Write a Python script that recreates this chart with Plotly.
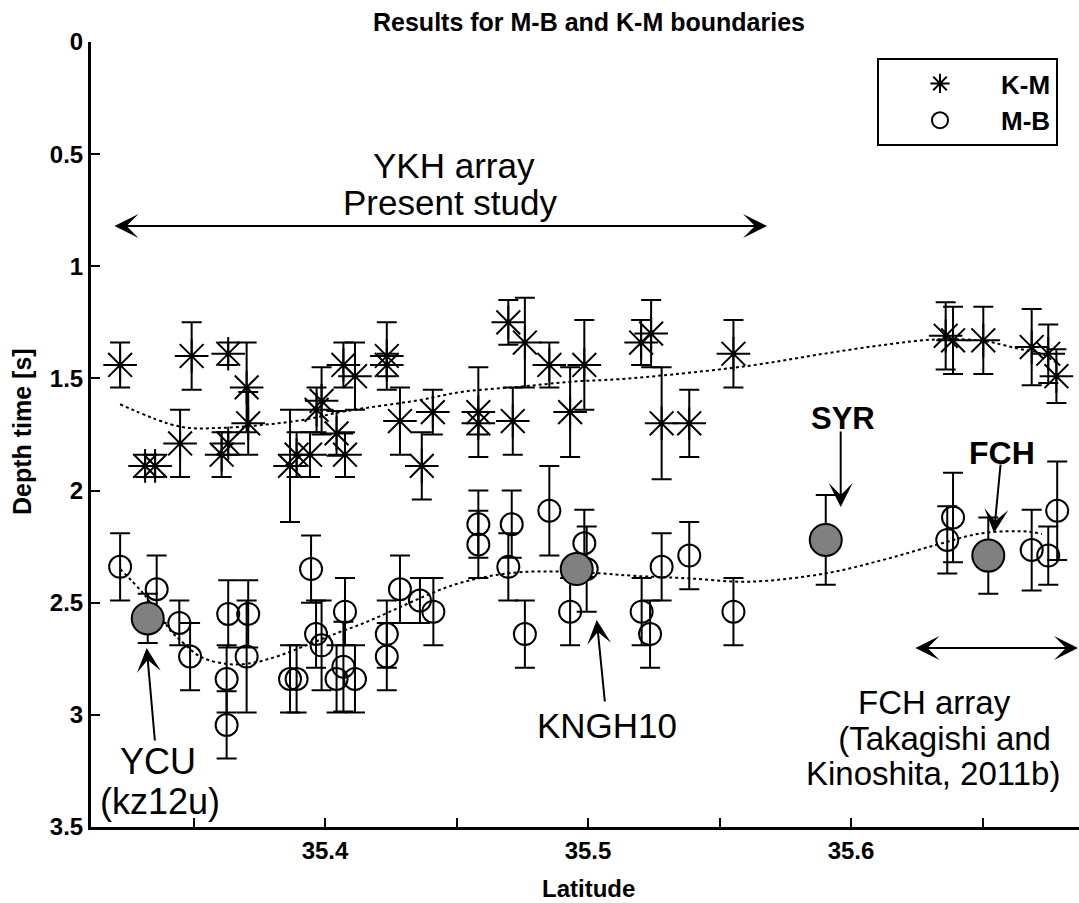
import plotly.graph_objects as go

# ---------------- data ----------------
km_lat = [35.3221, 35.3316, 35.3354, 35.3449, 35.3493, 35.3607, 35.3632, 35.3632,
          35.3702, 35.3708, 35.3867, 35.3892, 35.3943, 35.3968, 35.3987, 35.4044,
          35.4076, 35.4070, 35.4114, 35.4235, 35.4235, 35.4285, 35.4368, 35.4410,
          35.4583, 35.4583, 35.4697, 35.4714, 35.4760, 35.4853, 35.4932, 35.4986,
          35.5202, 35.5240, 35.5280, 35.5385, 35.5553, 35.6360, 35.6388, 35.6503,
          35.6687, 35.6750, 35.6781]
km_depth = [1.44, 1.89, 1.89, 1.79, 1.40, 1.84, 1.39, 1.79,
            1.54, 1.70, 1.89, 1.84, 1.84, 1.64, 1.60, 1.745,
            1.84, 1.44, 1.49, 1.40, 1.44, 1.69, 1.89, 1.65,
            1.65, 1.70, 1.25, 1.69, 1.34, 1.44, 1.65, 1.44,
            1.34, 1.30, 1.70, 1.70, 1.39, 1.31, 1.33, 1.33,
            1.36, 1.39, 1.49]
km_err = [0.10, 0.05, 0.05, 0.15, 0.15, 0.10, 0.05, 0.05,
          0.20, 0.14, 0.25, 0.10, 0.10, 0.10, 0.15, 0.10,
          0.10, 0.10, 0.15, 0.15, 0.05, 0.15, 0.15, 0.10,
          0.20, 0.05, 0.10, 0.15, 0.20, 0.10, 0.20, 0.20,
          0.10, 0.15, 0.25, 0.15, 0.15, 0.15, 0.15, 0.15,
          0.17, 0.13, 0.12]

mb_lat = [35.3221, 35.3360, 35.3446, 35.3487, 35.3626, 35.3626, 35.3632, 35.3708,
          35.3702, 35.3867, 35.3892, 35.3947, 35.3966, 35.3987, 35.4044, 35.4070,
          35.4076, 35.4114, 35.4235, 35.4235, 35.4285, 35.4361, 35.4412, 35.4583,
          35.4583, 35.4697, 35.4710, 35.4760, 35.4853, 35.4932, 35.4986, 35.4995,
          35.5204, 35.5236, 35.5280, 35.5385, 35.5553, 35.6366, 35.6388, 35.6687,
          35.6750, 35.6784]
mb_depth = [2.34, 2.44, 2.59, 2.74, 2.84, 3.045, 2.55, 2.55,
            2.74, 2.84, 2.84, 2.35, 2.64, 2.69, 2.84, 2.785,
            2.54, 2.84, 2.64, 2.74, 2.44, 2.49, 2.54, 2.15,
            2.24, 2.34, 2.15, 2.64, 2.09, 2.54, 2.235, 2.35,
            2.54, 2.64, 2.34, 2.29, 2.54, 2.22, 2.12, 2.265,
            2.29, 2.09]
mb_err = [0.15, 0.15, 0.10, 0.15, 0.15, 0.15, 0.15, 0.15,
          0.25, 0.15, 0.15, 0.15, 0.15, 0.20, 0.15, 0.20,
          0.15, 0.15, 0.15, 0.15, 0.15, 0.10, 0.15, 0.15,
          0.15, 0.15, 0.15, 0.15, 0.20, 0.15, 0.15, 0.19,
          0.15, 0.15, 0.15, 0.15, 0.15, 0.15, 0.20, 0.18,
          0.13, 0.22]

# named stations (M-B, filled grey)
st_names = ["YCU", "KNGH10", "SYR", "FCH"]
st_lat = [35.3326, 35.4957, 35.5904, 35.6522]
st_depth = [2.57, 2.35, 2.22, 2.29]
st_err = [0.11, 0.0, 0.20, 0.17]

# smoothed trends (dotted)
km_fit_lat = [35.3221, 35.3449, 35.3612, 35.3764, 35.3916, 35.4068, 35.4361, 35.4525,
              35.4741, 35.4932, 35.5122, 35.5323, 35.5616, 35.5869, 35.6122, 35.6327,
              35.6503, 35.6631, 35.6719, 35.6780]
km_fit_depth = [1.615, 1.715, 1.72, 1.707, 1.685, 1.648, 1.596, 1.559,
                1.537, 1.515, 1.503, 1.482, 1.443, 1.395, 1.351, 1.326,
                1.333, 1.366, 1.388, 1.43]
mb_fit_lat = [35.3221, 35.3310, 35.3417, 35.3449, 35.3525, 35.3626, 35.3715, 35.3816,
              35.3916, 35.4044, 35.4145, 35.4247, 35.4361, 35.4488, 35.4614, 35.4741,
              35.4894, 35.5046, 35.5186, 35.5376, 35.5616, 35.5904, 35.6119, 35.6322,
              35.6500, 35.6677, 35.6726]
mb_fit_depth = [2.35, 2.46, 2.63, 2.666, 2.74, 2.773, 2.77, 2.74,
                2.696, 2.636, 2.592, 2.54, 2.48, 2.421, 2.384, 2.364,
                2.361, 2.369, 2.381, 2.391, 2.406, 2.369, 2.31, 2.243,
                2.19, 2.183, 2.195]

x_ticks = [35.35, 35.40, 35.45, 35.50, 35.55, 35.60, 35.65]
x_ticklabels = ["", "35.4", "", "35.5", "", "35.6", ""]
y_ticks = [0, 0.5, 1, 1.5, 2, 2.5, 3, 3.5]
y_ticklabels = ["0", "0.5", "1", "1.5", "2", "2.5", "3", "3.5"]

# ---------------- layout geometry ----------------
W, H = 1079, 903
ML, MR, MT, MB = 91, 0, 42, 76
PW, PH = W - ML - MR, H - MT - MB
FONT = "Liberation Sans, Arial, sans-serif"
X_RANGE = [35.4 - (325 - ML) / 2630, 35.4 + (ML + PW - 325) / 2630]
Y_RANGE = [3.5, 0]


def PX(x):
    return (x - ML) / PW


def PY(y):
    return (MT + PH - y) / PH


fig = go.Figure()

line_style = dict(color="black", width=2, dash="dot")
fig.add_trace(go.Scatter(x=km_fit_lat, y=km_fit_depth, mode="lines", line=line_style,
                         line_shape="spline", showlegend=False, hoverinfo="skip"))
fig.add_trace(go.Scatter(x=mb_fit_lat, y=mb_fit_depth, mode="lines", line=line_style,
                         line_shape="spline", showlegend=False, hoverinfo="skip"))

err_style = dict(type="data", symmetric=True, color="black", thickness=2, width=10)

fig.add_trace(go.Scatter(
    x=km_lat, y=km_depth, mode="markers", name="K-M",
    error_y=dict(array=km_err, **err_style),
    marker=dict(symbol="asterisk-open", size=28, color="black",
                line=dict(color="black", width=2))))
fig.add_trace(go.Scatter(
    x=mb_lat, y=mb_depth, mode="markers", name="M-B",
    error_y=dict(array=mb_err, **err_style),
    marker=dict(symbol="circle-open", size=22, color="black",
                line=dict(color="black", width=2))))
fig.add_trace(go.Scatter(
    x=st_lat, y=st_depth, mode="markers", name="stations", showlegend=False,
    text=st_names,
    error_y=dict(array=st_err, **err_style),
    marker=dict(symbol="circle", size=32, color="#808080",
                line=dict(color="black", width=2))))

tick_common = dict(showgrid=False, zeroline=False, ticks="inside", ticklen=9,
                   tickwidth=2, tickcolor="black", linecolor="black", linewidth=3,
                   tickfont=dict(family=FONT, size=24, color="black", weight="bold"))

# main (bottom / left) axes
fig.update_layout(
    xaxis=dict(range=X_RANGE, tickmode="array", tickvals=x_ticks, ticktext=x_ticklabels,
               showline=True, mirror=False, **tick_common),
    yaxis=dict(range=Y_RANGE, tickmode="array", tickvals=y_ticks, ticktext=y_ticklabels,
               showline=True, mirror=False, **tick_common),
    # top axis: line + inward ticks, no labels
    xaxis2=dict(range=X_RANGE, overlaying="x", side="top", anchor="y",
                tickmode="array", tickvals=x_ticks, showticklabels=False,
                showline=True, **tick_common),
    # right axis: inward ticks only (frame edge lies just outside the picture)
    yaxis2=dict(range=Y_RANGE, overlaying="y", side="right", anchor="x",
                tickmode="array", tickvals=y_ticks, showticklabels=False,
                showline=False, **tick_common),
)

ann = []


def text(x, y, s, size, bold=False, **kw):
    ann.append(dict(x=PX(x), y=PY(y), xref="paper", yref="paper", text=s,
                    showarrow=False, xanchor=kw.get("xanchor", "center"),
                    yanchor="middle", textangle=kw.get("angle", 0),
                    font=dict(family=FONT, size=size, color="black",
                              weight="bold" if bold else "normal")))


def arrow(tipx, tipy, tailx, taily, both=False):
    ann.append(dict(x=PX(tipx), y=PY(tipy), xref="paper", yref="paper", text="",
                    showarrow=True, ax=tailx - tipx, ay=taily - tipy,
                    axref="pixel", ayref="pixel",
                    arrowhead=3, arrowsize=2.0, arrowwidth=2, arrowcolor="black",
                    startarrowhead=3, startarrowsize=2.0,
                    arrowside="end+start" if both else "end", standoff=0,
                    startstandoff=0))


text(589, 22, "Results for M-B and K-M boundaries", 25, bold=True)
text(588, 888, "Latitude", 24, bold=True)
text(22, 432, "Depth time [s]", 25, bold=True, angle=-90)

text(454, 166, "YKH array", 35)
text(450, 203, "Present study", 35)
arrow(767, 226, 113, 226, both=True)

text(158, 761, "YCU", 36)
text(160, 801, "(kz12u)", 36)
arrow(146.7, 648, 155, 742)

text(607, 725, "KNGH10", 35)
arrow(596.7, 620, 605, 703)

text(843, 418, "SYR", 31, bold=True)
arrow(840.7, 507, 840.7, 430)

text(1002, 453, "FCH", 32, bold=True)
arrow(994, 533, 1000.7, 463)

arrow(1088, 648, 914, 648, both=True)
text(934, 702, "FCH array", 33)
text(940, 738, " (Takagishi and", 33)
text(933, 773, "Kinoshita, 2011b)", 33)

fig.update_layout(
    width=W, height=H, margin=dict(l=ML, r=MR, t=MT, b=MB, pad=0),
    paper_bgcolor="white", plot_bgcolor="white",
    font=dict(family=FONT, color="black"),
    annotations=ann,
    legend=dict(x=PX(877), y=PY(58), xanchor="left", yanchor="top",
                bgcolor="white", bordercolor="black", borderwidth=2,
                itemwidth=112, tracegroupgap=0,
                font=dict(family=FONT, size=26, color="black", weight="bold")),
)

fig.write_html("out.html")
